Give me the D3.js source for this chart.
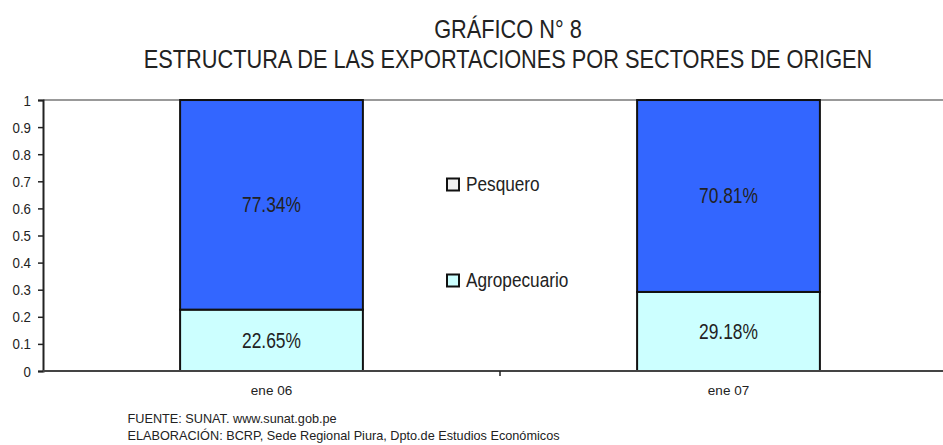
<!DOCTYPE html>
<html>
<head>
<meta charset="UTF-8">
<title>Gráfico N° 8</title>
<style>
  body { margin: 0; background: #fff; }
  text { font-family: "Liberation Sans", Arial, sans-serif; fill: #222; }
</style>
</head>
<body>
<script src="https://d3js.org/d3.v7.min.js"></script>
<svg></svg>
<script>
    // data
    let categories = ["ene 06", "ene 07"];
    let series = ["Agropecuario", "Pesquero"];
    let agropecuario = [0.2265, 0.2918];
    let pesquero = [0.7734, 0.7081];
    let yTicks = [0, 0.1, 0.2, 0.3, 0.4, 0.5, 0.6, 0.7, 0.8, 0.9, 1];
    let colors = {Agropecuario: "#CCFFFF", Pesquero: "#3366FF"};
    let legendColors = {Pesquero: "#EEEEEE", Agropecuario: "#CCFFFF"};

    let margin = {top: 100, left: 43},
        width = 914,
        height = 271;

    let svg = d3.select("svg")
        .attr("width", 943)
        .attr("height", 445);

    // no narrow font installed: squeeze the text sideways instead
    function narrow(parent, x, y, str, size, sx, anchor) {
        return parent.append("text")
            .attr("transform", "translate(" + x + "," + y + ") scale(" + sx + ",1)")
            .attr("text-anchor", anchor || "start")
            .style("font-size", size + "px")
            .text(str);
    }

    narrow(svg, 508, 38, "GRÁFICO N° 8", 25, 0.87, "middle");
    narrow(svg, 508, 68, "ESTRUCTURA DE LAS EXPORTACIONES POR SECTORES DE ORIGEN", 25, 0.87, "middle");

    let chart = svg.append("g")
        .attr("transform", "translate(" + margin.left + "," + margin.top + ")");

    let x = d3.scaleBand().domain(categories).range([0, width])
        .paddingInner(0.6).paddingOuter(0.3);
    let y = d3.scaleLinear().domain([0, 1]).range([height, 0]);

    // top gridline
    chart.append("line")
        .attr("x1", 0).attr("x2", width)
        .attr("y1", y(1)).attr("y2", y(1))
        .attr("stroke", "#999").attr("stroke-width", 2);

    let rows = categories.map((c, i) => ({cat: c, Agropecuario: agropecuario[i], Pesquero: pesquero[i]}));
    let stacked = d3.stack().keys(series)(rows);

    let layers = chart.selectAll(".layer")
        .data(stacked)
        .enter().append("g")
        .attr("fill", d => colors[d.key]);

    layers.selectAll("rect")
        .data(d => d)
        .enter().append("rect")
        .attr("x", d => x(d.data.cat))
        .attr("y", d => y(d[1]))
        .attr("width", x.bandwidth())
        .attr("height", d => y(d[0]) - y(d[1]))
        .attr("stroke", "#111")
        .attr("stroke-width", 2);

    layers.each(function(layer) {
        let g = d3.select(this);
        layer.forEach(d => {
            narrow(g, x(d.data.cat) + x.bandwidth() / 2, (y(d[0]) + y(d[1])) / 2 + 7.5,
                ((d[1] - d[0]) * 100).toFixed(2) + "%", 22, 0.79, "middle");
        });
    });

    // y axis
    let yAxis = chart.append("g")
        .call(d3.axisLeft(y).tickValues(yTicks).tickSize(5).tickFormat(d3.format("")));
    yAxis.select(".domain").attr("stroke", "#222").attr("stroke-width", 2);
    yAxis.selectAll(".tick line").attr("stroke", "#222").attr("stroke-width", 1.5);
    yAxis.selectAll(".tick text")
        .attr("x", 0).attr("dy", null)
        .attr("transform", "translate(-12,5) scale(0.95,1)")
        .style("font-size", "14px")
        .style("font-family", "'Liberation Sans', Arial, sans-serif").attr("fill", "#222");

    // x axis with ticks at category boundaries
    let xAxis = chart.append("g")
        .attr("transform", "translate(0," + height + ")");
    xAxis.append("line")
        .attr("x1", 0).attr("x2", width)
        .attr("stroke", "#444").attr("stroke-width", 2);
    xAxis.append("line")
        .attr("x1", x.step()).attr("x2", x.step())
        .attr("y1", 0).attr("y2", 5)
        .attr("stroke", "#222").attr("stroke-width", 1.5);
    categories.forEach(c => {
        narrow(xAxis, x(c) + x.bandwidth() / 2, 24, c, 13.5, 1, "middle");
    });

    // legend
    let legendY = {Pesquero: 190.5, Agropecuario: 286.5};
    let legend = svg.selectAll(".legend")
        .data(["Pesquero", "Agropecuario"])
        .enter().append("g")
        .attr("transform", d => "translate(447," + legendY[d] + ")");
    legend.append("rect")
        .attr("x", 0).attr("y", -12).attr("width", 12).attr("height", 12)
        .attr("fill", d => legendColors[d])
        .attr("stroke", "#111").attr("stroke-width", 2);
    legend.each(function(d) {
        narrow(d3.select(this), 19, 0, d, 20.5, 0.84);
    });

    // source notes
    narrow(svg, 127.5, 423, "FUENTE: SUNAT. www.sunat.gob.pe", 12.7, 1);
    narrow(svg, 127.5, 440, "ELABORACIÓN: BCRP, Sede Regional Piura, Dpto.de Estudios Económicos", 12.7, 1);
</script>
</body>
</html>
